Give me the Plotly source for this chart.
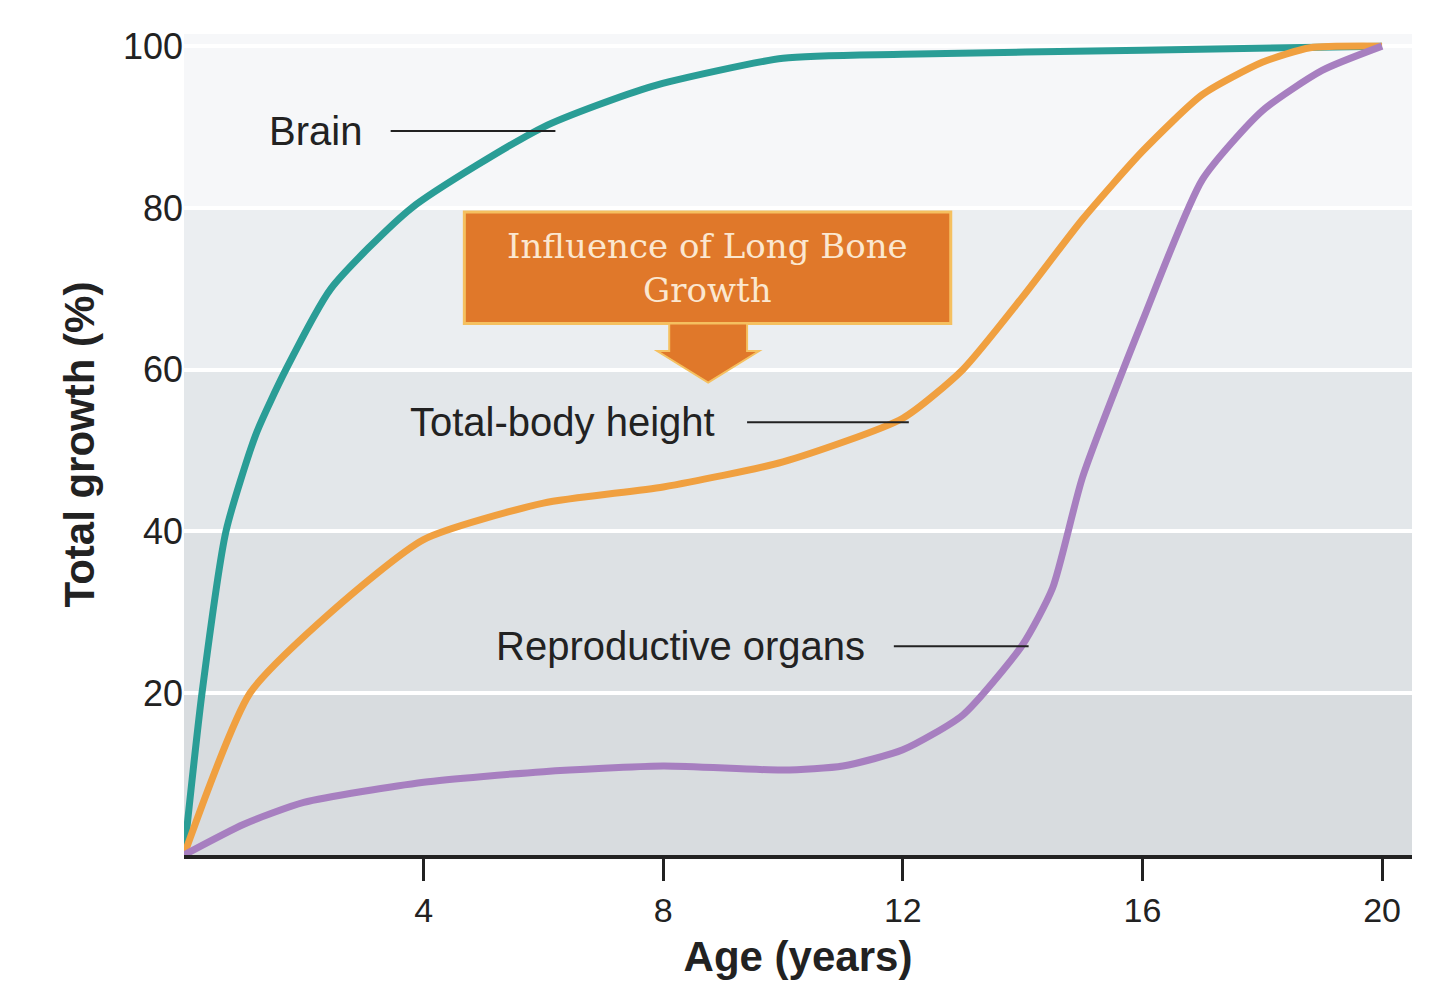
import plotly.graph_objects as go

# Values
age_brain = [0, 0.3, 0.7, 1.2, 1.7, 2.45, 3.8, 6, 7.8, 10, 12, 16, 20]
brain = [0, 20, 40, 52, 60, 70, 80, 90, 95, 98.5, 99, 99.5, 100]

age_height = [0, 1.1, 2.45, 4, 6, 8, 10, 12, 13, 14, 15, 16, 17, 18, 18.8, 20]
height = [0, 20, 30, 39, 43.5, 45.5, 48.6, 54, 60, 69, 78.6, 87, 94, 98, 99.8, 100]

age_repro = [0, 1, 2, 4, 6, 8, 10, 11, 12, 13, 14, 14.5, 15, 16, 17, 18, 19, 20]
repro = [0, 3.8, 6.5, 9, 10.3, 11, 10.5, 11, 13, 17.3, 26, 33, 46.7, 66, 83.5, 92, 97, 100]

x_ticks = [4, 8, 12, 16, 20]
y_ticks = [20, 40, 60, 80, 100]

fig = go.Figure()

def add_curve(x, y, color):
    fig.add_trace(go.Scatter(x=x, y=y, mode="lines",
                             line=dict(color=color, width=7, shape="spline", smoothing=0.6),
                             showlegend=False, hoverinfo="skip"))

add_curve(age_brain, brain, "#2a9d96")
add_curve(age_height, height, "#f0a040")
add_curve(age_repro, repro, "#a77fc0")

# gradient-like background bands
shades = ["#d8dcdf", "#dde1e4", "#e3e7ea", "#ebeef1", "#f6f7f9"]
for i, c in enumerate(shades):
    fig.add_shape(type="rect", xref="x", yref="y", x0=0, x1=20.5,
                  y0=i * 20, y1=(i + 1) * 20 + (1.5 if i == 4 else 0),
                  fillcolor=c, line_width=0, layer="below")

# labels with leader lines: text, text right edge, y, line start, line end
labels = [("Brain", 3.0, 89.5, 3.45, 6.2),
          ("Total-body height", 8.9, 53.5, 9.4, 12.1),
          ("Reproductive organs", 11.4, 25.8, 11.85, 14.1)]
for text, tx, ty, lx0, lx1 in labels:
    fig.add_annotation(x=tx, y=ty, text=text, showarrow=False, xanchor="right",
                       font=dict(size=40, color="#222", family="Liberation Sans"))
    fig.add_shape(type="line", x0=lx0, x1=lx1, y0=ty, y1=ty, line=dict(color="#222", width=2))

# orange callout box with arrow
fig.add_shape(type="rect", x0=4.68, x1=12.8, y0=65.7, y1=79.5,
              fillcolor="#e0782a", line=dict(color="#f5c060", width=3))
fig.add_shape(type="path", path="M 8.1 65.7 L 8.1 62.3 L 7.9 62.3 L 8.75 58.4 L 9.6 62.3 L 9.4 62.3 L 9.4 65.7 Z",
              fillcolor="#e0782a", line=dict(color="#f5c060", width=2))
fig.add_annotation(x=8.74, y=72.6, text="Influence of Long Bone<br>Growth", showarrow=False,
                   font=dict(size=34, color="#fbe7d0", family="DejaVu Serif"))

fig.update_layout(
    width=1440, height=1002,
    margin=dict(l=176, r=36, t=26, b=155),
    paper_bgcolor="white", plot_bgcolor="white",
    xaxis=dict(range=[0, 20.5], tickvals=x_ticks, ticks="outside", ticklen=22, tickwidth=3,
               tickcolor="#222", showgrid=False, zeroline=False, showline=True,
               linecolor="#222", linewidth=4,
               tickfont=dict(size=34, color="#222", family="Liberation Sans"),
               title=dict(text="<b>Age (years)</b>", font=dict(size=42, color="#222", family="Liberation Sans"))),
    yaxis=dict(range=[0, 101.5], tickvals=y_ticks, showgrid=True, gridcolor="white", gridwidth=4,
               zeroline=False, showline=False, ticks="",
               tickfont=dict(size=36, color="#222", family="Liberation Sans"),
               title=dict(text="<b>Total growth (%)</b>", font=dict(size=42, color="#222", family="Liberation Sans"))),
)

fig.write_html("out.html")
